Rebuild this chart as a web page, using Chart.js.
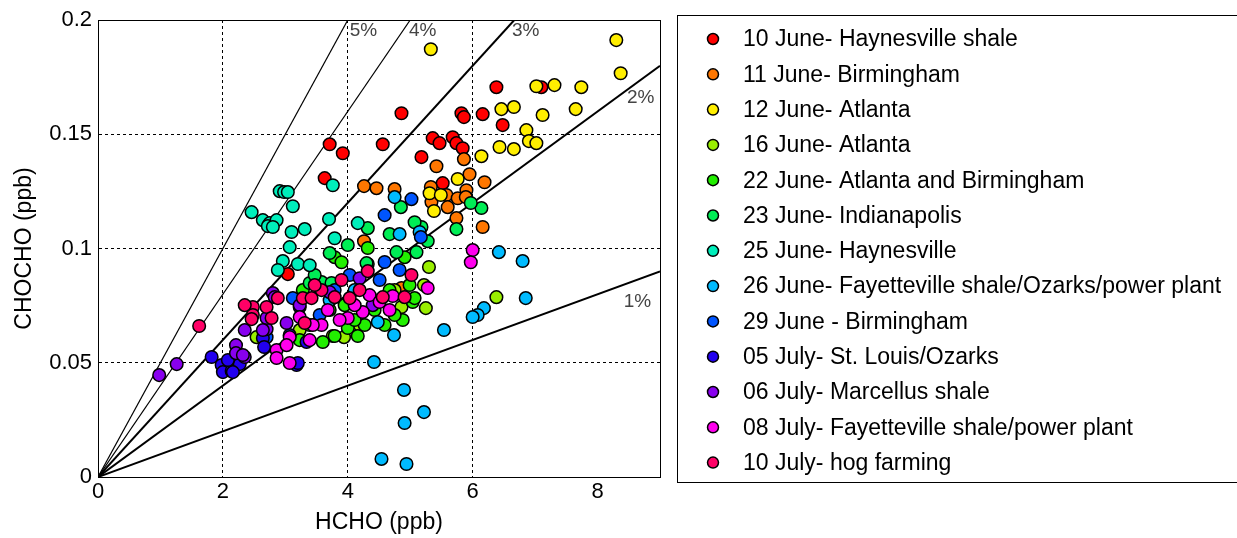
<!DOCTYPE html>
<html>
<head>
<meta charset="utf-8">
<script src="https://cdn.jsdelivr.net/npm/chart.js@4.4.1/dist/chart.umd.min.js"></script>
<style>
  html, body { margin: 0; padding: 0; background: #fff; }
  #wrap { width: 1237px; height: 538px; position: relative; }
</style>
</head>
<body>
<div id="wrap"><canvas id="grafico" width="1237" height="538"></canvas></div>
<script>
// valores: [HCHO, CHOCHO] em ppb
const june10 = [[6.38,0.1706],[7.10,0.1706],[4.86,0.1592],[5.82,0.1592],[5.86,0.1575],[6.16,0.1588],[6.48,0.154],
  [3.71,0.1456],[3.92,0.1417],[4.56,0.1456],[5.36,0.1483],[5.47,0.1461],[5.68,0.1487],[5.74,0.1461],[5.84,0.1439],
  [5.18,0.14],[3.63,0.1308],[5.52,0.1286],[3.04,0.0888]];
const june11 = [[4.26,0.1273],[4.46,0.1264],[4.75,0.126],[5.33,0.1269],[5.42,0.136],[5.86,0.1391],[5.95,0.1325],
  [6.19,0.129],[5.34,0.1203],[5.58,0.1234],[5.6,0.1181],[5.76,0.122],[5.9,0.1255],[5.89,0.1225],[5.74,0.1133],
  [6.16,0.1094],[4.26,0.1032],[4.86,0.0827]];
const june12 = [[5.33,0.1872],[8.30,0.1912],[8.37,0.1767],[7.02,0.171],[7.31,0.1715],[7.74,0.1706],[6.46,0.161],
  [6.66,0.1619],[7.12,0.1584],[7.65,0.161],[6.86,0.1518],[6.9,0.147],[7.02,0.1461],[6.43,0.1444],[6.66,0.1435],
  [6.14,0.1404],[5.76,0.1304],[5.31,0.1242],[5.49,0.1234],[5.38,0.1164]];
const june16 = [[5.3,0.0919],[5.22,0.084],[5.25,0.0739],[6.38,0.0787],[2.54,0.0612],[3.76,0.0617],[3.94,0.0612],
  [4.86,0.0744],[4.51,0.0774],[3.23,0.0643],[4.19,0.0665],[4.75,0.0818]];
const june22 = [[3.79,0.0962],[3.9,0.094],[4.91,0.0962],[4.32,0.0932],[3.28,0.0818],[3.6,0.0591],[3.79,0.0617],
  [4.0,0.0652],[4.16,0.0617],[4.27,0.0665],[4.88,0.0687],[5.04,0.0766],[5.07,0.0783],[4.75,0.0709],[4.43,0.0731],
  [4.11,0.0687],[3.39,0.0665],[3.23,0.0599],[4.59,0.0665],[4.32,0.1002],[3.71,0.0731],[3.95,0.0752],[4.67,0.0818],
  [4.99,0.084]];
const june23 = [[4.85,0.1181],[6.14,0.1177],[5.97,0.1199],[5.74,0.1085],[5.18,0.1094],[5.28,0.1032],[4.0,0.1015],
  [4.32,0.1089],[4.67,0.1063],[5.07,0.1115],[3.71,0.098],[4.3,0.0936],[3.39,0.0849],[3.58,0.0853],[3.74,0.0849],
  [4.78,0.0984],[5.1,0.0984],[3.47,0.0884]];
const june25 = [[2.91,0.1251],[2.98,0.1247],[3.04,0.1247],[3.12,0.1185],[2.46,0.1159],[2.64,0.1124],[2.75,0.1111],
  [2.72,0.1098],[2.86,0.1124],[2.8,0.1094],[3.1,0.1072],[3.31,0.1085],[3.07,0.1006],[2.96,0.0945],[3.2,0.0932],
  [2.88,0.0906],[3.7,0.1129],[3.76,0.1277],[4.16,0.1111],[3.79,0.1045],[3.39,0.0927]];
const june26 = [[6.42,0.0984],[6.8,0.0945],[6.85,0.0783],[6.18,0.0739],[6.08,0.0709],[6.0,0.07],[5.54,0.0643],
  [4.74,0.0621],[4.42,0.0503],[4.9,0.0381],[5.22,0.0284],[4.91,0.0236],[4.54,0.0079],[4.94,0.0057],[4.75,0.1225],
  [4.83,0.1063],[5.15,0.1072],[4.48,0.0678],[4.11,0.0818],[3.71,0.0774]];
const june29 = [[5.02,0.1216],[4.59,0.1146],[5.17,0.105],[4.59,0.0941],[3.12,0.0783],[3.23,0.0744],[2.7,0.0612],
  [3.79,0.0818],[4.03,0.0884],[4.51,0.0862],[3.55,0.0709],[4.83,0.0906],[3.07,0.0621]];
const july05 = [[1.82,0.0525],[1.98,0.049],[2.0,0.0459],[2.14,0.0464],[2.27,0.0494],[2.16,0.0459],[2.08,0.0512],
  [2.64,0.0608],[3.18,0.049],[3.2,0.0499],[2.66,0.0569],[3.34,0.0591]];
const july06 = [[0.98,0.0446],[1.26,0.0494],[2.35,0.0525],[2.21,0.0577],[2.35,0.0643],[2.7,0.0647],[2.21,0.0542],
  [2.32,0.0534],[2.8,0.0805],[3.02,0.0674],[2.7,0.0696],[2.83,0.0787],[4.19,0.087],[4.4,0.0752],[3.71,0.0809],
  [3.23,0.0752],[2.64,0.0643]];
const july08 = [[6.0,0.0993],[5.97,0.094],[5.28,0.0827],[4.35,0.0796],[4.51,0.0766],[4.72,0.0792],[4.24,0.0722],
  [3.58,0.0665],[4.0,0.0696],[3.44,0.0665],[3.07,0.0612],[2.86,0.0556],[3.02,0.0577],[2.86,0.0521],[3.07,0.0499],
  [3.23,0.07],[3.87,0.0687],[4.67,0.0731],[4.11,0.0752],[3.68,0.0731],[3.39,0.0599]];
const july10 = [[1.62,0.0661],[2.48,0.0744],[2.7,0.0744],[2.88,0.0783],[2.48,0.0709],[2.46,0.0691],[2.78,0.0696],
  [3.28,0.0783],[3.42,0.0783],[3.31,0.0674],[4.32,0.0901],[4.56,0.0787],[4.91,0.0787],[5.02,0.0884],[3.9,0.0862],
  [3.79,0.0787],[4.03,0.0783],[3.58,0.0818],[4.19,0.0818],[2.35,0.0752],[3.47,0.084]];

const series = [june10, june11, june12, june16, june22, june23, june25, june26, june29, july05, july06, july08, july10];
const seriesNames = [
  "10 June- Haynesville shale", "11 June- Birmingham", "12 June- Atlanta", "16 June- Atlanta",
  "22 June- Atlanta and Birmingham", "23 June- Indianapolis", "25 June- Haynesville",
  "26 June- Fayetteville shale/Ozarks/power plant", "29 June - Birmingham", "05 July- St. Louis/Ozarks",
  "06 July- Marcellus shale", "08 July- Fayetteville shale/power plant", "10 July- hog farming"
];
const seriesColors = ["#ff0000", "#ff7700", "#ffee00", "#99ee00", "#22ee00", "#00ee55", "#00eebb",
  "#00bbff", "#0055ff", "#2200ee", "#8800ee", "#ff00ee", "#ff0066"];

// linhas de razão CHOCHO/HCHO
const ratioNames = ["1%", "2%", "3%", "4%", "5%"];
const ratioEndX = [9, 9, 6.667, 5, 4];
const ratioEndY = [0.09, 0.18, 0.2, 0.2, 0.2];
const ratioLabelX = [8.42, 8.47, 6.63, 4.98, 4.03];
const ratioLabelY = [0.0765, 0.166, 0.1955, 0.1955, 0.1955];

const xTicks = [0, 2, 4, 6, 8];
const yTicks = [0, 0.05, 0.1, 0.15, 0.2];

const FONTE = "'Liberation Sans', Arial, sans-serif";

const datasets = [];
ratioNames.forEach((nome, i) => {
  datasets.push({
    type: "line",
    label: nome,
    data: [{ x: 0, y: 0 }, { x: ratioEndX[i], y: ratioEndY[i] }],
    borderColor: "#000",
    borderWidth: i < 3 ? 2 : 1.2,
    pointRadius: 0,
    fill: false,
    order: 100
  });
});
series.forEach((pts, i) => {
  datasets.push({
    type: "scatter",
    label: seriesNames[i],
    data: pts.map(p => ({ x: p[0], y: p[1] })),
    backgroundColor: seriesColors[i],
    borderColor: "#000",
    borderWidth: 1.5,
    pointRadius: 6.3,
    order: 20 - i
  });
});

const gridColor = ctx => (ctx.index === 0 || ctx.index === ctx.chart.scales[ctx.scale.id].ticks.length - 1) ? "rgba(0,0,0,0)" : "#000";

const extras = {
  id: "extras",
  afterDraw(chart) {
    const c = chart.ctx;
    const a = chart.chartArea;
    const sx = chart.scales.x, sy = chart.scales.y;
    c.save();
    // moldura do eixo
    c.strokeStyle = "#000";
    c.lineWidth = 1;
    c.strokeRect(Math.round(a.left) + 0.5, Math.round(a.top) + 0.5, Math.round(a.right - a.left), Math.round(a.bottom - a.top));
    // rótulos das linhas
    c.fillStyle = "#444";
    c.font = "19px " + FONTE;
    c.textBaseline = "middle";
    c.textAlign = "left";
    ratioNames.forEach((t, i) => {
      c.fillText(t, sx.getPixelForValue(ratioLabelX[i]), sy.getPixelForValue(ratioLabelY[i]));
    });
    // legenda
    c.strokeStyle = "#000";
    c.lineWidth = 1;
    c.strokeRect(677.5, 15.5, 570, 467);
    c.font = "23px " + FONTE;
    seriesNames.forEach((nome, i) => {
      const y = 39 + i * 35.3;
      c.beginPath();
      c.arc(713, y, 5.5, 0, Math.PI * 2);
      c.fillStyle = seriesColors[i];
      c.fill();
      c.lineWidth = 1.5;
      c.stroke();
      c.fillStyle = "#000";
      c.fillText(nome, 743, y + 1);
    });
    c.restore();
  }
};

new Chart(document.getElementById("grafico"), {
  type: "scatter",
  data: { datasets },
  options: {
    responsive: false,
    animation: false,
    layout: { padding: { left: 0, right: 577, top: 20, bottom: 0 } },
    plugins: { legend: { display: false }, tooltip: { enabled: false } },
    scales: {
      x: {
        type: "linear", min: 0, max: 9,
        afterBuildTicks: s => { s.ticks = xTicks.map(v => ({ value: v })); },
        afterFit: s => { s.height = 61; },
        ticks: { color: "#000", font: { family: FONTE, size: 22 }, padding: 2 },
        grid: { color: gridColor, drawTicks: false, tickLength: 0 },
        border: { display: true, color: "#000", width: 1, dash: [3, 3] },
        title: { display: true, text: "HCHO (ppb)", color: "#000", font: { family: FONTE, size: 23 }, padding: { top: 0, bottom: 2 } }
      },
      y: {
        type: "linear", min: 0, max: 0.2,
        afterBuildTicks: s => { s.ticks = yTicks.map(v => ({ value: v })); },
        afterFit: s => { s.width = 98; },
        ticks: { color: "#000", font: { family: FONTE, size: 22 }, padding: 6, callback: v => String(+v.toFixed(2)) },
        grid: { color: gridColor, drawTicks: false, tickLength: 0 },
        border: { display: true, color: "#000", width: 1, dash: [3, 3] },
        title: { display: true, text: "CHOCHO (ppb)", color: "#000", font: { family: FONTE, size: 23 }, padding: { top: 11, bottom: 0 } }
      }
    }
  },
  plugins: [extras]
});
</script>
</body>
</html>
